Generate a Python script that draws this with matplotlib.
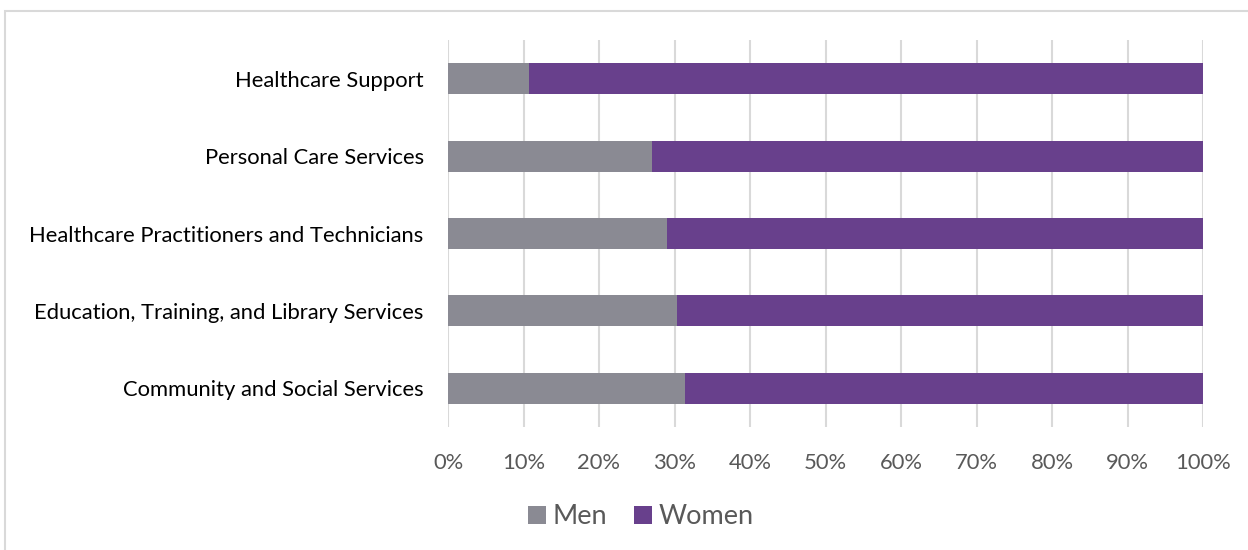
import matplotlib.pyplot as plt
import numpy as np
from matplotlib.patches import Rectangle

plt.rcParams['font.family'] = ['Lato', 'DejaVu Sans']

categories = ['Healthcare Support', 'Personal Care Services',
              'Healthcare Practitioners and Technicians',
              'Education, Training, and Library Services',
              'Community and Social Services']
men = [10.7, 27.0, 29.05, 30.3, 31.4]
women = [100 - m for m in men]
ticks = np.arange(0, 101, 10)

c_men = '#8A8A93'
c_women = '#68408C'
txt = '#595959'

fig = plt.figure(figsize=(12.48, 5.5), dpi=100)
W, H = 1248, 550
ax = fig.add_axes([448 / W, 1 - 427 / H, (1203 - 448) / W, (427 - 40) / H])

y = np.arange(len(categories))
ax.barh(y, men, height=0.4, color=c_men, label='Men', zorder=3)
ax.barh(y, women, left=men, height=0.4, color=c_women, label='Women', zorder=3)

ax.set_xlim(0, 100)
ax.set_ylim(len(categories) - 0.5, -0.5)
ax.set_yticks(y)
ax.set_yticklabels(categories, fontsize=15.8, color='black')
ax.set_xticks(ticks)
ax.set_xticklabels([f'{t}%' for t in ticks], fontsize=15.8, color=txt)
ax.tick_params(axis='both', length=0)
ax.tick_params(axis='y', pad=17.5)
ax.tick_params(axis='x', pad=19)
ax.grid(axis='x', color='#D9D9D9', linewidth=1.5, zorder=0)
for s in ax.spines.values():
    s.set_visible(False)

leg = fig.legend(loc='center', bbox_to_anchor=(641 / W, 1 - 517 / H), ncol=2,
                 frameon=False, fontsize=19.5, handlelength=0.65, handleheight=0.65,
                 handletextpad=0.25, columnspacing=1.0)
for t in leg.get_texts():
    t.set_color(txt)

# chart border (cropped at right and bottom)
fig.patches.append(Rectangle((5 / W, -0.1), 1.2, 1 - 11 / H + 0.1,
                             transform=fig.transFigure, fill=False,
                             edgecolor='#D9D9D9', linewidth=1.5))

fig.savefig('out.png', dpi=100)
